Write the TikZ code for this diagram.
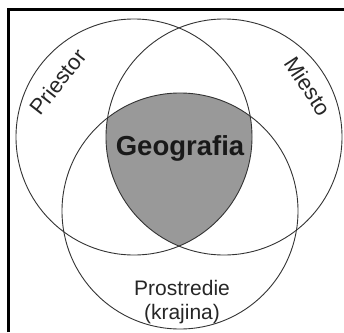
\documentclass[tikz,border=0pt]{standalone}
\usepackage{fontspec}
\setmainfont{Liberation Sans}
\begin{document}
\begin{tikzpicture}[x=1pt,y=-1pt,
  ring/.style={draw=black!80,line width=0.9pt},
  core/.style={fill=black!40},
  label/.style={text=black!85,font=\fontsize{21}{24}\selectfont,inner sep=0pt},
  title/.style={text=black!90,font=\fontsize{27.5}{30}\selectfont\bfseries,inner sep=0pt},
  frame/.style={line width=3pt,draw=black}]
  \useasboundingbox (0,0) rectangle (344,332);
  % circle centres
  \coordinate (priestor) at (134,137);
  \coordinate (miesto) at (224,137);
  \coordinate (prostredie) at (180,211);
  % shaded triple intersection
  \begin{scope}
    \clip (priestor) circle[radius=118];
    \clip (miesto) circle[radius=118];
    \fill[core] (prostredie) circle[radius=118];
  \end{scope}
  % the three sets
  \draw[ring] (priestor) circle[radius=118];
  \draw[ring] (miesto) circle[radius=118];
  \draw[ring] (prostredie) circle[radius=118];
  % labels
  \node[title] (geo) at (180,148) {Geografia};
  \node[label,font=\fontsize{22}{24}\selectfont,rotate=52] (lp) at (58,82) {Priestor};
  \node[label,font=\fontsize{22}{24}\selectfont,rotate=-57] (lm) at (308,86) {Miesto};
  \node[label,align=center] (lk) at (182,302) {Prostredie\\(krajina)};
  % frame (top and left edges)
  \draw[frame] (8,332) -- (8,9) -- (344,9);
\end{tikzpicture}
\end{document}
